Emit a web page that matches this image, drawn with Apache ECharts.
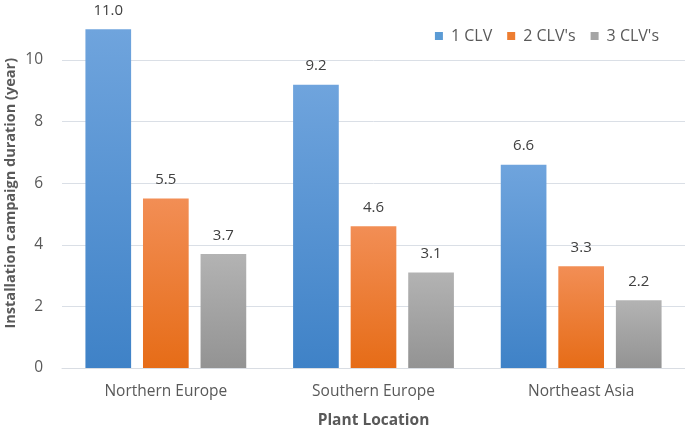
<!DOCTYPE html>
<html><head><meta charset="utf-8">
<script src="https://cdn.jsdelivr.net/npm/echarts@6/dist/echarts.min.js"></script>
<style>html,body{margin:0;padding:0;background:#fff}#c{width:685px;height:428px}</style>
</head><body><div id="c"></div>
<script>
var categories = ["Northern Europe", "Southern Europe", "Northeast Asia"];
var seriesNames = ["1 CLV", "2 CLV's", "3 CLV's"];
var clv1 = [11.0, 9.2, 6.6];
var clv2 = [5.5, 4.6, 3.3];
var clv3 = [3.7, 3.1, 2.2];
var yTicks = [0, 2, 4, 6, 8, 10];

var font = "'Open Sans', sans-serif";
function grad(top, bottom) {
  return new echarts.graphic.LinearGradient(0, 0, 0, 1, [
    {offset: 0, color: top}, {offset: 1, color: bottom}
  ]);
}
var fills = [grad('#6fa4dd', '#3f82c7'), grad('#f28e55', '#e66c17'), grad('#b3b3b3', '#939393')];
var legendColors = ['#5b9bd5', '#ed7d31', '#a5a5a5'];
var values = [clv1, clv2, clv3];

var chart = echarts.init(document.getElementById('c'), null, {renderer: 'canvas'});
chart.setOption({
  animation: false,
  textStyle: {fontFamily: font},
  legend: {
    right: 21, top: 23,
    itemWidth: 8, itemHeight: 8, itemGap: 15,
    icon: 'rect',
    textStyle: {fontSize: 16, color: '#595959', fontFamily: font, padding: [0, 0, 0, 3]},
    data: seriesNames.map(function (n, i) { return {name: n, itemStyle: {color: legendColors[i]}}; })
  },
  grid: {left: 62, right: 0, top: -1.6, bottom: 60, containLabel: false, outerBoundsMode: 'none'},
  xAxis: {
    type: 'category', data: categories,
    name: 'Plant Location', nameLocation: 'middle', nameGap: 45, nameMoveOverlap: false,
    nameTextStyle: {fontSize: 15.5, fontWeight: 'bold', color: '#595959', fontFamily: font},
    axisLine: {lineStyle: {color: '#d9dde3', width: 1}},
    axisTick: {show: false},
    axisLabel: {fontSize: 15.5, color: '#595959', margin: 16, fontFamily: font}
  },
  yAxis: {
    type: 'value', min: 0, max: 12, interval: 2,
    name: 'Installation campaign duration (year)', nameLocation: 'middle', nameGap: 44, nameMoveOverlap: false,
    nameTextStyle: {fontSize: 14.5, fontWeight: 'bold', color: '#595959', fontFamily: font, padding: [0, 20, 0, 0]},
    axisLine: {show: false}, axisTick: {show: false},
    axisLabel: {fontSize: 15.5, color: '#595959', margin: 19, showMaxLabel: false, fontFamily: font,
      formatter: function (v) { return yTicks.indexOf(v) >= 0 ? String(v) : ''; }},
    splitLine: {lineStyle: {color: '#dadfe6', width: 1}}
  },
  series: seriesNames.map(function (n, i) {
    return {
      name: n, type: 'bar', data: values[i],
      barWidth: '22%', barGap: '26%',
      itemStyle: {color: fills[i]},
      label: {show: true, position: 'top', distance: 11, fontSize: 15, color: '#404040', fontFamily: font,
        formatter: function (p) { return p.value.toFixed(1); }}
    };
  })
});
</script></body></html>
